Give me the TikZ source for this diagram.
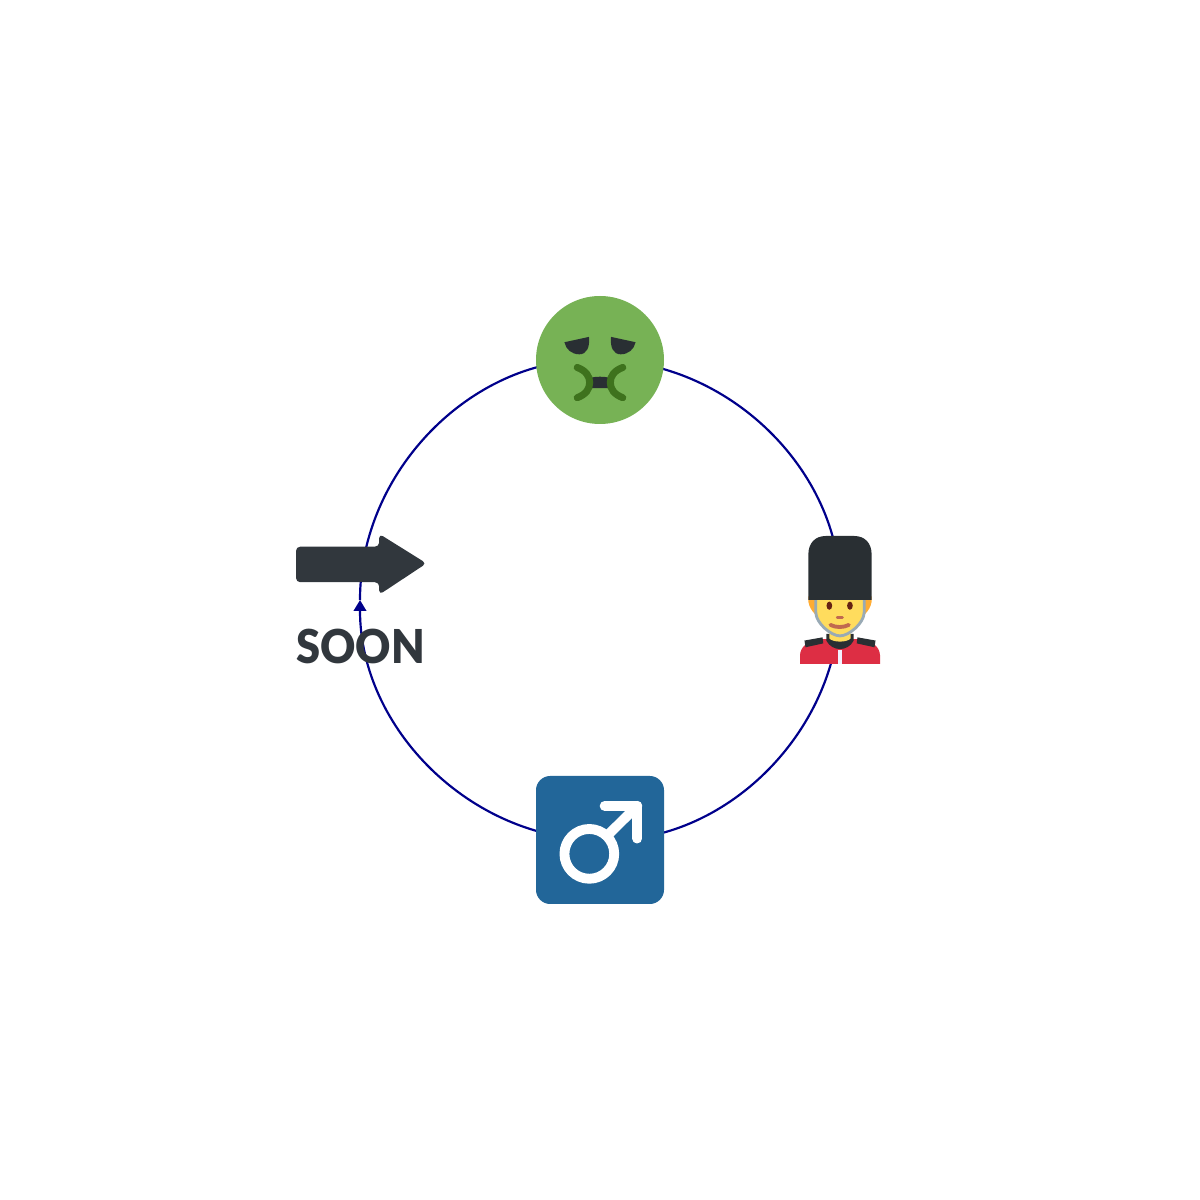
\documentclass[tikz,border=0pt]{standalone}
\usepackage{fontspec}
\newfontfamily\soonfont[FakeStretch=0.93]{Lato Black}
\usetikzlibrary{positioning}
\usetikzlibrary{backgrounds}
\usetikzlibrary{arrows.meta}

\definecolor{linkBlue}{HTML}{00008B}
\definecolor{darkInk}{HTML}{292F33}
\definecolor{soonInk}{HTML}{31373D}
\definecolor{sickGreen}{HTML}{77B255}
\definecolor{mouthGreen}{HTML}{3E721D}
\definecolor{maleBlue}{HTML}{226699}
\definecolor{skinYellow}{HTML}{FFDC5D}
\definecolor{hairOrange}{HTML}{FFAC33}
\definecolor{strapGrey}{HTML}{99AAB5}
\definecolor{coatRed}{HTML}{DD2E44}
\definecolor{eyeBrown}{HTML}{662113}
\definecolor{lipBrown}{HTML}{C1694F}

\tikzset{
	iconbox/.style={minimum width=1.28cm, minimum height=1.28cm, inner sep=0pt, outer sep=0pt},
	link/.style={draw=linkBlue, line width=0.62pt, looseness=0.97, -{Triangle[length=1.1mm, width=1.25mm]}},
	iconunits/.style={shift={(-0.64cm,0.64cm)}, x=1.28cm/36, y=-1.28cm/36}
}

\begin{document}
\begin{tikzpicture}
\useasboundingbox (0,0) rectangle (12,12);

\node[iconbox, circle, fill=sickGreen] (sick) at (6,8.4) {};
\node[iconbox] (guard) at (8.4,6) {};
\node[iconbox, rounded corners=1.42mm, fill=maleBlue] (male) at (6,3.6) {};
\node[iconbox] (soon) at (3.6,6) {};

% ---

\begin{pgfonlayer}{background}
\draw[link] (sick.center) to[out=0, in=90] (guard.center);
\draw[link] (guard.center) to[out=-90, in=0] (male.center);
\draw[link] (male.center) to[out=180, in=-90] (soon.center);
\draw[link] (soon.center) to[out=90, in=180] (sick.center);
\end{pgfonlayer}

% ---

\begin{scope}[shift={(sick.center)}, iconunits]
\fill[darkInk] (8,13) -- (14.9,11.5) .. controls (15.2,14.5) and (14.2,16.4) .. (12.2,16.4) .. controls (10,16.4) and (8.4,15) .. (8,13) -- cycle;
\fill[darkInk] (28,13) -- (21.1,11.5) .. controls (20.8,14.5) and (21.8,16.4) .. (23.8,16.4) .. controls (26,16.4) and (27.6,15) .. (28,13) -- cycle;
\fill[darkInk] (15.2,23) .. controls (17,22.6) and (19,22.6) .. (20.8,23) -- (20.8,25.9) -- (15.2,25.9) -- cycle;
\draw[mouthGreen, line width=2pt, line cap=round] (11.6,20.1) .. controls (14,21) and (15.1,22.5) .. (15.1,24.35) .. controls (15.1,26.2) and (14,27.7) .. (11.6,28.6);
\draw[mouthGreen, line width=2pt, line cap=round] (24.4,20.1) .. controls (22,21) and (20.9,22.5) .. (20.9,24.35) .. controls (20.9,26.2) and (22,27.7) .. (24.4,28.6);
\end{scope}

% ---

\begin{scope}[shift={(guard.center)}, iconunits]
\fill[hairOrange] (9.1,17) -- (26.9,17) -- (26.9,18.5) .. controls (26.6,20) and (26,21) .. (25,22) -- (11,22) .. controls (10,21) and (9.4,20) .. (9.1,18.5) -- cycle;
\fill[coatRed] (6.75,36) -- (6.75,33.5) .. controls (6.9,31) and (9,29.6) .. (12,29) -- (24,29) .. controls (27,29.6) and (29.1,31) .. (29.25,33.5) -- (29.25,36) -- cycle;
\fill[darkInk] (8,29.4) -- (13.1,28.5) -- (13.3,30.2) -- (8.3,31.3) -- cycle;
\fill[darkInk] (28,29.4) -- (22.9,28.5) -- (22.7,30.2) -- (27.7,31.3) -- cycle;
\fill[darkInk] (14.2,27.5) -- (21.8,27.5) -- (21.8,29.5) .. controls (21,31) and (19.5,31.8) .. (18,31.8) .. controls (16.5,31.8) and (15,31) .. (14.2,29.5) -- cycle;
\fill[skinYellow] (15,27) -- (21,27) -- (21,28.8) .. controls (20,30) and (16,30) .. (15,28.8) -- cycle;
\fill[skinYellow] (11.2,17.5) -- (24.8,17.5) -- (24.8,21.5) .. controls (24.8,24.5) and (20.5,28.1) .. (18,28.1) .. controls (15.5,28.1) and (11.2,24.5) .. (11.2,21.5) -- cycle;
\draw[strapGrey, line width=0.8pt] (11.2,17.5) -- (11.2,21.5) .. controls (11.2,24.5) and (15.5,28.1) .. (18,28.1) .. controls (20.5,28.1) and (24.8,24.5) .. (24.8,21.5) -- (24.8,17.5);
\fill[darkInk] (9.1,5.2) .. controls (9.1,2) and (11,0) .. (14,0) -- (22,0) .. controls (25,0) and (26.9,2) .. (26.9,5.2) -- (26.9,18) -- (9.1,18) -- cycle;
\fill[eyeBrown] (15,19.6) ellipse[x radius=0.8, y radius=1.15];
\fill[eyeBrown] (20.8,19.6) ellipse[x radius=0.8, y radius=1.15];
\draw[lipBrown, line width=0.75pt, line cap=round] (17.2,22.9) -- (18.7,22.9);
\draw[lipBrown, line width=1.1pt, line cap=round] (15.3,25) .. controls (16.8,25.8) and (19,25.8) .. (20.5,25);
\fill[white!95!blue] (17.5,32.2) rectangle (18.5,36);
\end{scope}

% ---

\begin{scope}[shift={(male.center)}, iconunits]
\draw[white, line width=2.8pt] (15,21.9) circle[radius=7];
\draw[white, line width=2.8pt, line cap=round, line join=round] (19.3,8.4) -- (28.5,8.4) -- (28.5,17.6);
\draw[white, line width=2.8pt, line cap=round] (20,16.8) -- (28.5,8.4);
\end{scope}

% ---

\begin{scope}[shift={(soon.center)}, iconunits]
\fill[soonInk, rounded corners=1.2pt] (0,3) -- (23.4,3) -- (23.4,-0.6) -- (36.7,7.7) -- (23.4,16.5) -- (23.4,13) -- (0,13) -- cycle;
\end{scope}

\node[above=-0.01cm of soon.south, xshift=0.005cm, text=soonInk, inner sep=0pt, font=\fontsize{13.3}{13.3}\soonfont] (soonlabel) {SOON};

\end{tikzpicture}
\end{document}
